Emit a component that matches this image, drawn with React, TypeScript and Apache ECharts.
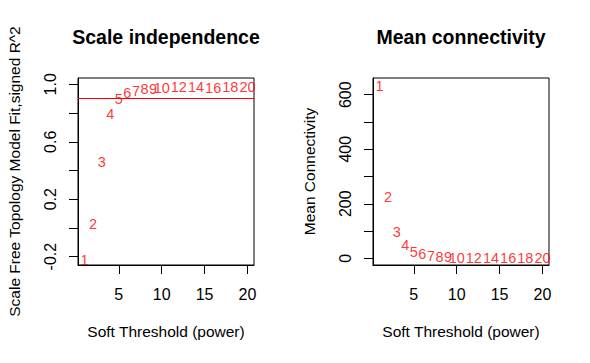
import React, { useEffect, useRef } from "react";
import * as echarts from "echarts";

const powers = [1, 2, 3, 4, 5, 6, 7, 8, 9, 10, 12, 14, 16, 18, 20];
const scaleFreeFit = [-0.22, 0.03, 0.46, 0.79, 0.9, 0.94, 0.955, 0.965, 0.97, 0.972, 0.979, 0.979, 0.975, 0.979, 0.979];
const meanConnectivity = [633, 226, 95, 49, 22, 15, 7, 4.5, 3, 2, 1.3, 1, 0.9, 0.85, 0.8];
const xTicks = [5, 10, 15, 20];
const leftYTicks = [-0.2, 0, 0.2, 0.4, 0.6, 0.8, 1.0];
const leftYLabels = [-0.2, 0.2, 0.6, 1.0];
const rightYTicks = [0, 100, 200, 300, 400, 500, 600];
const rightYLabels = [0, 200, 400, 600];
const cutHeight = 0.9;

const FONT = "'Liberation Sans', Arial, sans-serif";

export default function App() {
  const ref = useRef<HTMLDivElement>(null);
  useEffect(() => {
    if (!ref.current) return;
    const chart = echarts.init(ref.current, null, { renderer: "svg" });
    const gridBase = { top: 78, width: 176, height: 187, show: true, borderColor: "#000", borderWidth: 1, backgroundColor: "transparent" };
    const xAxisBase = (gi: number) => ({
      type: "value" as const,
      gridIndex: gi,
      min: 0.24,
      max: 20.76,
      name: "Soft Threshold (power)",
      nameLocation: "middle" as const,
      nameGap: 58,
      nameTextStyle: { fontFamily: FONT, fontSize: 15.5, color: "#000" },
      axisLine: { show: true, onZero: false, lineStyle: { color: "#000", width: 1 } },
      axisTick: { show: true, length: 9, customValues: xTicks, lineStyle: { color: "#000" } },
      axisLabel: { customValues: xTicks, margin: 21, fontFamily: FONT, fontSize: 16, color: "#000" },
      splitLine: { show: false },
    });
    const yAxisBase = (gi: number, min: number, max: number, ticks: number[], labels: number[], name: string, fmt: (v: number) => string) => ({
      type: "value" as const,
      gridIndex: gi,
      min,
      max,
      name,
      nameLocation: "middle" as const,
      nameGap: 56,
      nameTextStyle: { fontFamily: FONT, fontSize: 15.5, color: "#000" },
      axisLine: { show: true, onZero: false, lineStyle: { color: "#000", width: 1 } },
      axisTick: { show: true, length: 9, customValues: ticks, lineStyle: { color: "#000" } },
      axisLabel: { customValues: labels, rotate: 90, margin: 20, fontFamily: FONT, fontSize: 16, color: "#000", formatter: fmt },
      splitLine: { show: false },
    });
    const labelSeries = (gi: number, ys: number[]) => ({
      type: "scatter" as const,
      xAxisIndex: gi,
      yAxisIndex: gi,
      symbolSize: 0,
      data: powers.map((p, i) => [p, ys[i]]),
      label: {
        show: true,
        position: "inside" as const,
        formatter: (p: any) => String(p.value[0]),
        color: "#FF0000",
        fontFamily: FONT,
        fontSize: 14.5,
      },
      labelLayout: { hideOverlap: false },
      silent: true,
    });
    chart.setOption({
      animation: false,
      backgroundColor: "#fff",
      title: [
        { text: "Scale independence", left: 166, top: 27, textAlign: "center", padding: 0, textStyle: { fontFamily: FONT, fontSize: 19.5, fontWeight: "bold", color: "#000" } },
        { text: "Mean connectivity", left: 461, top: 27, textAlign: "center", padding: 0, textStyle: { fontFamily: FONT, fontSize: 19.5, fontWeight: "bold", color: "#000" } },
      ],
      grid: [
        { ...gridBase, left: 78 },
        { ...gridBase, left: 373 },
      ],
      xAxis: [xAxisBase(0), xAxisBase(1)],
      yAxis: [
        yAxisBase(0, -0.258, 1.044, leftYTicks, leftYLabels, "Scale Free Topology Model Fit,signed R^2", (v: number) => v.toFixed(1)),
        yAxisBase(1, -24.6, 661.4, rightYTicks, rightYLabels, "Mean Connectivity", (v: number) => String(Math.round(v))),
      ],
      series: [
        {
          ...labelSeries(0, scaleFreeFit),
          markLine: {
            silent: true,
            symbol: "none",
            label: { show: false },
            lineStyle: { color: "#FF0000", type: "solid", width: 1 },
            data: [{ yAxis: cutHeight }],
          },
        },
        labelSeries(1, meanConnectivity),
      ],
    });
    return () => chart.dispose();
  }, []);
  return <div ref={ref} style={{ position: "fixed", left: 0, top: 0, width: 590, height: 363 }} />;
}
